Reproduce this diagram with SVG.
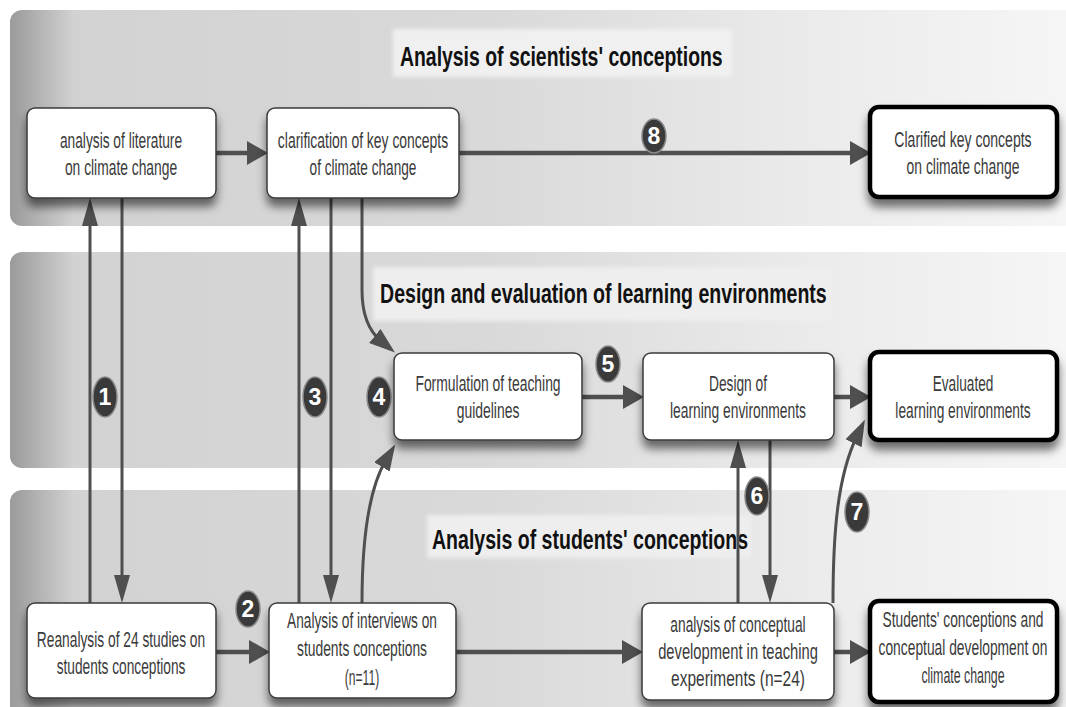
<svg xmlns="http://www.w3.org/2000/svg" width="1066" height="707" viewBox="0 0 1066 707">
<defs>
<linearGradient id="bandG" x1="0" y1="0" x2="1" y2="0">
<stop offset="0" stop-color="#9a9a9a"/>
<stop offset="0.06" stop-color="#d2d2d2"/>
<stop offset="0.45" stop-color="#d9d9d9"/>
<stop offset="0.75" stop-color="#ebebeb"/>
<stop offset="1" stop-color="#f6f6f6"/>
</linearGradient>
<filter id="sh" x="-10%" y="-10%" width="120%" height="150%">
<feDropShadow dx="0" dy="8" stdDeviation="5" flood-color="#000" flood-opacity="0.55"/>
</filter>
<filter id="soft" x="-5%" y="-20%" width="110%" height="140%">
<feGaussianBlur stdDeviation="2"/>
</filter>
<marker id="ah" markerUnits="userSpaceOnUse" markerWidth="22" markerHeight="26" refX="10" refY="12" orient="auto">
<path d="M0,0 L21,12 L0,24 z" fill="#4f4f4f"/>
</marker>
<marker id="av" markerUnits="userSpaceOnUse" markerWidth="30" markerHeight="18" refX="13" refY="8" orient="auto">
<path d="M0,0 L28,8 L0,16 z" fill="#4f4f4f"/>
</marker>
<marker id="ac" markerUnits="userSpaceOnUse" markerWidth="28" markerHeight="20" refX="8" refY="9" orient="auto">
<path d="M0,0 L26,9 L0,18 z" fill="#4f4f4f"/>
</marker>
</defs>
<style>
.box{fill:#fff;stroke:#3a3a3a;stroke-width:1.5}
.final{fill:#fff;stroke:#000;stroke-width:4.5}
.t{font-family:"Liberation Sans",Arial,sans-serif;font-size:22px;fill:#3a3a3a;text-anchor:middle}
.title{font-family:"Liberation Sans",Arial,sans-serif;font-size:27px;font-weight:bold;fill:#111}
.h{fill:none;stroke:#4f4f4f;stroke-width:4.5}
.v{fill:none;stroke:#4f4f4f;stroke-width:3}
.badge{fill:#3a3a3a;stroke:#8a8a8a;stroke-width:1.5}
.num{font-family:"Liberation Sans",Arial,sans-serif;font-size:23px;font-weight:bold;fill:#fff;text-anchor:middle}
</style>
<rect width="1066" height="707" fill="#fff"/>
<g id="bands">
<rect x="10" y="10" width="1070" height="216" rx="12" fill="url(#bandG)"/>
<rect x="10" y="252" width="1070" height="216" rx="12" fill="url(#bandG)"/>
<rect x="10" y="490" width="1070" height="240" rx="12" fill="url(#bandG)"/>
<rect x="393" y="29" width="339" height="48" fill="#f0f0f0" filter="url(#soft)"/>
<rect x="373" y="267" width="458" height="54" fill="#eeeeee" filter="url(#soft)"/>
<rect x="427" y="515" width="324" height="43" fill="#eeeeee" filter="url(#soft)"/>
<text class="title" transform="translate(400,66) scale(0.73,1)" textLength="442" lengthAdjust="spacingAndGlyphs">Analysis of scientists' conceptions</text>
<text class="title" transform="translate(380,303) scale(0.73,1)" textLength="612" lengthAdjust="spacingAndGlyphs">Design and evaluation of learning environments</text>
<text class="title" transform="translate(432,549) scale(0.73,1)" textLength="433" lengthAdjust="spacingAndGlyphs">Analysis of students' conceptions</text>
</g>
<g id="connectors">
<path class="h" d="M216,153 L257,153" marker-end="url(#ah)"/>
<path class="h" d="M459,153 L860,153" marker-end="url(#ah)"/>
<path class="h" d="M582,397 L633,397" marker-end="url(#ah)"/>
<path class="h" d="M834,397 L860,397" marker-end="url(#ah)"/>
<path class="h" d="M216,652 L259,652" marker-end="url(#ah)"/>
<path class="h" d="M456,652 L632,652" marker-end="url(#ah)"/>
<path class="h" d="M834,652 L860,652" marker-end="url(#ah)"/>
<path class="v" d="M90,603 L90,213" marker-end="url(#av)"/>
<path class="v" d="M122,198 L122,588" marker-end="url(#av)"/>
<path class="v" d="M299,603 L299,213" marker-end="url(#av)"/>
<path class="v" d="M331,198 L331,588" marker-end="url(#av)"/>
<path class="v" d="M738,603 L738,455" marker-end="url(#av)"/>
<path class="v" d="M770,440 L770,588" marker-end="url(#av)"/>
<path class="v" d="M362,198 L362,290 C362,315 370,332 381,341" marker-end="url(#ac)"/>
<path class="v" d="M362,603 C362,540 368,490 386,460" marker-end="url(#ac)"/>
<path class="v" d="M833,603 C833,530 838,475 857,436" marker-end="url(#ac)"/>
<g id="badges">
<ellipse class="badge" cx="654" cy="136" rx="12" ry="17"/><text class="num" x="654" y="144">8</text>
<ellipse class="badge" cx="608" cy="364" rx="12" ry="18"/><text class="num" x="608" y="372">5</text>
<ellipse class="badge" cx="248" cy="609" rx="12" ry="18"/><text class="num" x="248" y="617">2</text>
<ellipse class="badge" cx="105" cy="397" rx="12" ry="20"/><text class="num" x="105" y="405">1</text>
<ellipse class="badge" cx="315" cy="397" rx="12" ry="20"/><text class="num" x="315" y="405">3</text>
<ellipse class="badge" cx="379" cy="397" rx="12" ry="20"/><text class="num" x="379" y="405">4</text>
<ellipse class="badge" cx="757" cy="496" rx="12" ry="19"/><text class="num" x="757" y="504">6</text>
<ellipse class="badge" cx="857" cy="512" rx="12" ry="20"/><text class="num" x="857" y="520">7</text>
</g>
</g>
<g id="n1"><rect class="box" x="27" y="108" width="189" height="90" rx="8" filter="url(#sh)"/>
<text class="t" transform="translate(121,148) scale(0.66,1)" textLength="185" lengthAdjust="spacingAndGlyphs">analysis of literature</text>
<text class="t" transform="translate(121,175) scale(0.66,1)" textLength="170" lengthAdjust="spacingAndGlyphs">on climate change</text></g>
<g id="n2"><rect class="box" x="267" y="108" width="192" height="90" rx="8" filter="url(#sh)"/>
<text class="t" transform="translate(363,148) scale(0.66,1)" textLength="258" lengthAdjust="spacingAndGlyphs">clarification of key concepts</text>
<text class="t" transform="translate(363,175) scale(0.66,1)" textLength="162" lengthAdjust="spacingAndGlyphs">of climate change</text></g>
<g id="n3"><rect class="final" x="870" y="107" width="187" height="90" rx="9" filter="url(#sh)"/>
<text class="t" transform="translate(963,147) scale(0.66,1)" textLength="208" lengthAdjust="spacingAndGlyphs">Clarified key concepts</text>
<text class="t" transform="translate(963,174) scale(0.66,1)" textLength="171" lengthAdjust="spacingAndGlyphs">on climate change</text></g>
<g id="n4"><rect class="box" x="394" y="353" width="188" height="87" rx="8" filter="url(#sh)"/>
<text class="t" transform="translate(488,391) scale(0.66,1)" textLength="220" lengthAdjust="spacingAndGlyphs">Formulation of teaching</text>
<text class="t" transform="translate(488,418) scale(0.66,1)" textLength="95" lengthAdjust="spacingAndGlyphs">guidelines</text></g>
<g id="n5"><rect class="box" x="643" y="353" width="191" height="87" rx="8" filter="url(#sh)"/>
<text class="t" transform="translate(738,391) scale(0.66,1)" textLength="88" lengthAdjust="spacingAndGlyphs">Design of</text>
<text class="t" transform="translate(738,418) scale(0.66,1)" textLength="206" lengthAdjust="spacingAndGlyphs">learning environments</text></g>
<g id="n6"><rect class="final" x="870" y="352" width="187" height="88" rx="9" filter="url(#sh)"/>
<text class="t" transform="translate(963,391) scale(0.66,1)" textLength="92" lengthAdjust="spacingAndGlyphs">Evaluated</text>
<text class="t" transform="translate(963,418) scale(0.66,1)" textLength="205" lengthAdjust="spacingAndGlyphs">learning environments</text></g>
<g id="n7"><rect class="box" x="27" y="603" width="189" height="95" rx="8" filter="url(#sh)"/>
<text class="t" transform="translate(121,647) scale(0.66,1)" textLength="255" lengthAdjust="spacingAndGlyphs">Reanalysis of 24 studies on</text>
<text class="t" transform="translate(121,674) scale(0.66,1)" textLength="195" lengthAdjust="spacingAndGlyphs">students conceptions</text></g>
<g id="n8"><rect class="box" x="269" y="603" width="187" height="95" rx="8" filter="url(#sh)"/>
<text class="t" transform="translate(362,628) scale(0.66,1)" textLength="227" lengthAdjust="spacingAndGlyphs">Analysis of interviews on</text>
<text class="t" transform="translate(362,656) scale(0.66,1)" textLength="197" lengthAdjust="spacingAndGlyphs">students conceptions</text>
<text class="t" transform="translate(362,685) scale(0.66,1)" textLength="52" lengthAdjust="spacingAndGlyphs">(n=11)</text></g>
<g id="n9"><rect class="box" x="642" y="603" width="192" height="97" rx="8" filter="url(#sh)"/>
<text class="t" transform="translate(738,632) scale(0.66,1)" textLength="205" lengthAdjust="spacingAndGlyphs">analysis of conceptual</text>
<text class="t" transform="translate(738,659) scale(0.66,1)" textLength="242" lengthAdjust="spacingAndGlyphs">development in teaching</text>
<text class="t" transform="translate(738,686) scale(0.66,1)" textLength="203" lengthAdjust="spacingAndGlyphs">experiments  (n=24)</text></g>
<g id="n10"><rect class="final" x="870" y="601" width="187" height="101" rx="9" filter="url(#sh)"/>
<text class="t" transform="translate(963,627) scale(0.66,1)" textLength="244" lengthAdjust="spacingAndGlyphs">Students' conceptions and</text>
<text class="t" transform="translate(963,655) scale(0.66,1)" textLength="256" lengthAdjust="spacingAndGlyphs">conceptual development on</text>
<text class="t" transform="translate(963,683) scale(0.66,1)" textLength="126" lengthAdjust="spacingAndGlyphs">climate change</text></g>
</svg>
